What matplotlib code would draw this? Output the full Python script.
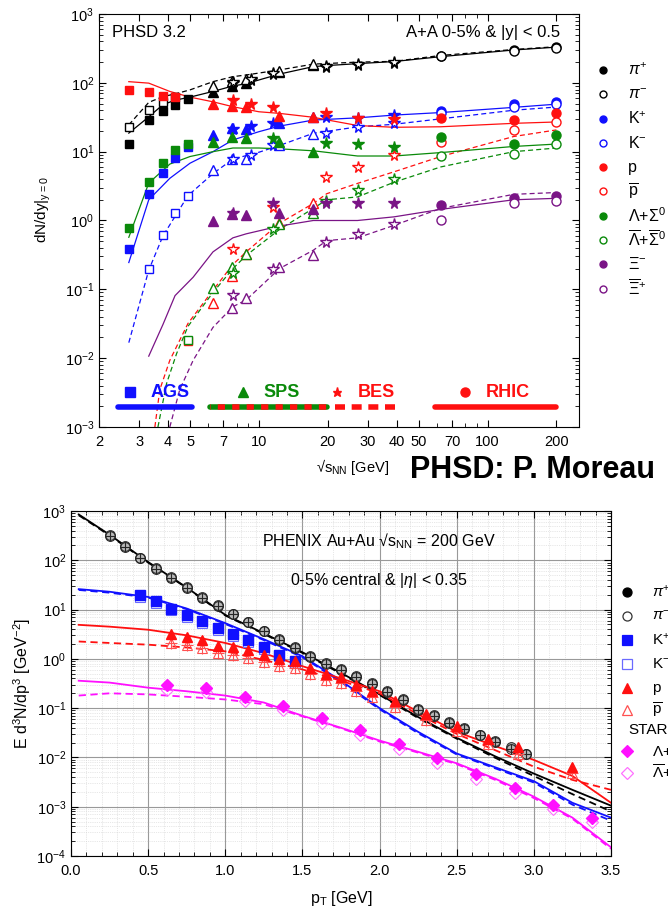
import numpy as np
import matplotlib.pyplot as plt
from matplotlib.lines import Line2D
from matplotlib.ticker import FixedLocator, NullFormatter, LogLocator, MultipleLocator, FormatStrFormatter

plt.rcParams['font.family'] = ['Liberation Sans', 'DejaVu Sans']
plt.rcParams['mathtext.fontset'] = 'custom'
plt.rcParams['mathtext.rm'] = 'Liberation Sans'
plt.rcParams['mathtext.it'] = 'Liberation Sans:italic'
plt.rcParams['mathtext.bf'] = 'Liberation Sans:bold'

nan = np.nan

# ---------------- top panel: dN/dy vs sqrt(s_NN) ----------------
AGS_E = [2.7, 3.3, 3.8, 4.3, 4.9]
SPS_E = [6.3, 7.6, 8.8, 12.3, 17.3]
BES_E = [7.7, 9.2, 11.5, 19.6, 27, 39]
RHIC_E = [62.4, 130, 200]

species = ['pip', 'pim', 'kp', 'km', 'p', 'pbar', 'lam', 'lambar', 'xi', 'xibar']
colors = {'pip': 'black', 'pim': 'black', 'kp': '#1010ff', 'km': '#1010ff',
          'p': '#ff1010', 'pbar': '#ff1010', 'lam': '#0a8a0a', 'lambar': '#0a8a0a',
          'xi': '#7a1486', 'xibar': '#7a1486'}
filled = {'pip': True, 'pim': False, 'kp': True, 'km': False, 'p': True, 'pbar': False,
          'lam': True, 'lambar': False, 'xi': True, 'xibar': False}

ags = {
    'pip': [12.9, 28.8, 39, 47, 59],
    'pim': [22.6, 40, 52, 63, nan],
    'kp': [0.39, 2.4, 4.9, 8.1, 11.8],
    'km': [nan, 0.195, 0.62, 1.3, 2.28],
    'p': [80, 74, 64, 62, nan],
    'pbar': [nan, nan, nan, nan, 0.018],
    'lam': [0.79, 3.67, 6.9, 10.6, 12.9],
    'lambar': [nan, nan, nan, nan, 0.0185],
    'xi': [nan] * 5,
    'xibar': [nan] * 5,
}
sps = {
    'pip': [74.5, 90, 100, 144, 181],
    'pim': [90, 105, 112, 150, 190],
    'kp': [17.7, 22.3, 21.5, 26.5, 32],
    'km': [5.5, 7.8, 7.8, 12.3, 17.8],
    'p': [48.7, 46, 45, 32.6, 31.5],
    'pbar': [0.063, 0.156, 0.33, 0.91, 1.77],
    'lam': [13.7, 16.5, 15.7, 13.9, 10],
    'lambar': [0.106, 0.214, 0.33, 0.89, 1.3],
    'xi': [0.98, 1.23, 1.2, 1.27, 1.45],
    'xibar': [nan, 0.053, 0.074, 0.214, 0.32],
}
bes = {
    'pip': [99, 110, 135, 172, 181, 195],
    'pim': [102, 113, 140, 175, 185, 198],
    'kp': [21.5, 23.4, 26.5, 32, 31, 34],
    'km': [7.9, 8.9, 12.6, 18.9, 22.6, 25.9],
    'p': [56, 49, 45, 36, 31, 30],
    'pbar': [0.39, nan, 1.55, 4.3, 6.0, 9.0],
    'lam': [nan, nan, 15.7, 13.5, 12.9, 11.8],
    'lambar': [0.17, nan, 0.76, 1.92, 2.77, 4.0],
    'xi': [1.28, nan, 1.78, 1.8, 1.8, 1.8],
    'xibar': [0.083, nan, 0.195, 0.49, 0.64, 0.9],
}
rhic = {
    'pip': [245, 300, 335],
    'pim': [245, 290, 325],
    'kp': [39.4, 49, 53],
    'km': [36, 44, 49],
    'p': [30.5, 28.8, 36],
    'pbar': [14, 20.6, 27],
    'lam': [16.2, 12.9, 17.5],
    'lambar': [8.6, 9.1, 12.9],
    'xi': [1.66, 2.14, 2.25],
    'xibar': [1.0, 1.77, 1.9],
}

# PHSD curves (energy, value)
phsd = {
    'pip': ([2.7, 3.3, 3.8, 4.3, 5.0, 6.3, 7.7, 8.8, 10, 12.3, 17.3, 19.8, 27, 39, 62.4, 130, 200],
            [18.6, 32, 48, 56, 62, 75, 90, 97, 110, 134, 172, 178, 190, 204, 240, 300, 330]),
    'pim': ([2.7, 3.3, 3.8, 4.3, 5.0, 6.3, 7.7, 8.8, 12.3, 17.3, 27, 39, 62.4, 130, 200],
            [24.5, 52, 63, 69, 79, 104, 123, 130, 154, 187, 200, 205, 250, 305, 335]),
    'kp': ([2.7, 3.3, 4.08, 5.0, 6.3, 7.7, 10, 12.3, 17.3, 27, 39, 62.4, 130, 200],
           [0.245, 2.0, 4.1, 6.8, 10, 14.8, 19.5, 23.5, 28.8, 31, 34, 37, 44, 49]),
    'km': ([2.7, 3.3, 3.81, 4.9, 6.3, 7.7, 10, 12.3, 17.3, 27, 39, 62.4, 130, 200],
           [0.0168, 0.19, 0.6, 2.3, 4.8, 7.8, 9.8, 12.3, 18.5, 22.9, 25, 30, 40, 44.5]),
    'p': ([2.7, 3.3, 4.08, 5.0, 6.3, 7.7, 10, 12.3, 17.3, 19.8, 27, 39, 62.4, 130, 200],
          [104, 99, 75, 62, 53, 45, 38, 36, 31.6, 29, 24, 22.6, 23, 25.8, 27]),
    'pbar': ([3.51, 3.69, 4.08, 4.9, 6.3, 7.7, 8.8, 12.3, 17.3, 19.8, 27, 39, 62.4, 130, 200],
             [0.001, 0.0035, 0.0093, 0.032, 0.097, 0.23, 0.35, 0.91, 1.77, 2.45, 3.46, 5.1, 8.5, 16.6, 20.7]),
    'lam': ([2.7, 3.3, 4.08, 5.0, 6.3, 7.7, 10, 12.3, 17.3, 27, 39, 62.4, 130, 200],
            [0.57, 3.5, 6.6, 8.5, 10, 11.3, 11.3, 11, 10.3, 8.65, 8.65, 9.7, 11.9, 12.9]),
    'lambar': ([3.62, 3.95, 4.37, 4.9, 6.3, 7.7, 8.8, 12.3, 17.3, 19.8, 27, 39, 62.4, 130, 200],
               [0.001, 0.0043, 0.0117, 0.029, 0.09, 0.2, 0.31, 0.74, 1.5, 2.0, 2.2, 3.6, 6.0, 10, 11.3]),
    'xi': ([3.3, 3.81, 4.3, 5.16, 6.3, 7.7, 8.8, 12.3, 17.3, 27, 39, 62.4, 130, 200],
           [0.0107, 0.031, 0.081, 0.15, 0.35, 0.56, 0.64, 0.83, 1.0, 1.0, 1.13, 1.45, 2.0, 2.1]),
    'xibar': ([4.08, 4.51, 5.16, 6.3, 7.7, 8.8, 12.3, 17.3, 19.8, 27, 39, 62.4, 130, 200],
              [0.001, 0.0035, 0.0093, 0.028, 0.056, 0.07, 0.2, 0.37, 0.51, 0.56, 0.85, 1.5, 2.4, 2.55]),
}

top_legend = [r'$\pi^{+}$', r'$\pi^{-}$', r'K$^{+}$', r'K$^{-}$', 'p', r'$\overline{\mathrm{p}}$',
              r'$\Lambda$+$\Sigma^{0}$', r'$\overline{\Lambda}$+$\overline{\Sigma}^{0}$',
              r'$\Xi^{-}$', r'$\overline{\Xi}^{+}$']

BAND_Y = 0.00195
AGS_BAND = [2.42, 5.08]
SPS_BAND = [6.1, 19.8]
BES_BAND = [21.6, 40.8]
RHIC_BAND = [59, 200]
BAND_LABEL_Y = 0.0032
band_marks = [2.72, 8.5, 21.9, 79.6]
band_text_x = [4.08, 12.6, 32.6, 122]
band_names = ['AGS', 'SPS', 'BES', 'RHIC']

# ---------------- bottom panel: pT spectra ----------------
PT_PI = [0.25, 0.35, 0.45, 0.55, 0.65, 0.75, 0.85, 0.95, 1.05, 1.15, 1.25, 1.35, 1.45, 1.55,
         1.65, 1.75, 1.85, 1.95, 2.05, 2.15, 2.25, 2.35, 2.45, 2.55, 2.65, 2.75, 2.85, 2.95]
PIP_PT = [325, 195, 113, 70, 45, 29, 18, 12.2, 8.3, 5.7, 3.7, 2.55, 1.74, 1.13, 0.83, 0.61,
          0.45, 0.32, 0.225, 0.154, 0.095, 0.072, 0.053, 0.040, 0.029, 0.022, 0.016, 0.012]
PIM_PT = [315, 190, 110, 68, 44, 28, 17.5, 11.8, 8.0, 5.5, 3.6, 2.45, 1.68, 1.1, 0.8, 0.59,
          0.43, 0.31, 0.215, 0.148, 0.091, 0.069, 0.05, 0.038, 0.028, 0.021, 0.015, 0.0115]
PT_K = [0.45, 0.55, 0.65, 0.75, 0.85, 0.95, 1.05, 1.15, 1.25, 1.35, 1.45]
KP_PT = [19.4, 14.9, 10.5, 7.7, 5.8, 4.2, 3.2, 2.4, 1.74, 1.22, 0.9]
KM_PT = [17.8, 13.7, 9.7, 7.1, 5.3, 3.9, 2.95, 2.2, 1.6, 1.12, 0.83]
PT_P = [0.65, 0.75, 0.85, 0.95, 1.05, 1.15, 1.25, 1.35, 1.45, 1.55, 1.65, 1.75, 1.85, 1.95,
        2.1, 2.3, 2.5, 2.7, 2.9, 3.25]
P_PT = [3.2, 2.84, 2.44, 1.85, 1.71, 1.49, 1.22, 1.0, 0.9, 0.66, 0.49, 0.42, 0.29, 0.225,
        0.14, 0.076, 0.044, 0.024, 0.016, 0.0065]
PBAR_PT = [2.1, 1.9, 1.65, 1.3, 1.2, 1.05, 0.88, 0.72, 0.66, 0.5, 0.37, 0.32, 0.22, 0.17,
           0.105, 0.058, 0.034, 0.019, 0.012, 0.0048]
PT_L = [0.625, 0.875, 1.125, 1.375, 1.625, 1.875, 2.125, 2.375, 2.625, 2.875, 3.125, 3.375]
L_PT = [0.29, 0.26, 0.17, 0.11, 0.063, 0.036, 0.019, 0.0096, 0.0046, 0.0024, 0.0011, 0.0006]
LBAR_PT = [0.23, 0.21, 0.14, 0.09, 0.05, 0.029, 0.015, 0.0078, 0.0037, 0.0019, 0.0009, 0.00048]

PT_CURVE = [0.05, 0.25, 0.5, 0.75, 1.0, 1.25, 1.5, 1.75, 2.0, 2.25, 2.5, 2.75, 3.0, 3.25, 3.5]
PI_SOLID = [850, 330, 92, 28, 7.8, 3.3, 1.36, 0.52, 0.19, 0.066, 0.025, 0.0105, 0.0047, 0.0022, 0.00105]
PI_DASH = [820, 320, 90, 27.5, 7.6, 3.2, 1.32, 0.5, 0.185, 0.063, 0.024, 0.0098, 0.0042, 0.0018, 0.0008]
K_SOLID = [26, 23, 18, 10.5, 5.3, 2.5, 1.13, 0.36, 0.1, 0.033, 0.012, 0.0063, 0.0033, 0.0012, 0.0006]
K_DASH = [25, 22, 17.5, 10.2, 5.1, 2.4, 1.08, 0.34, 0.095, 0.031, 0.0115, 0.006, 0.0031, 0.0011, 0.00052]
P_SOLID = [4.9, 4.5, 3.9, 3.0, 2.1, 1.3, 0.71, 0.4, 0.22, 0.085, 0.033, 0.017, 0.0089, 0.0042, 0.0012]
P_DASH = [2.25, 2.1, 1.94, 1.7, 1.42, 0.95, 0.61, 0.36, 0.2, 0.075, 0.03, 0.014, 0.0065, 0.0035, 0.0022]
L_SOLID = [0.36, 0.33, 0.26, 0.22, 0.18, 0.13, 0.07, 0.04, 0.022, 0.013, 0.0076, 0.0037, 0.0016, 0.0006, 0.00015]
L_DASH = [0.18, 0.2, 0.19, 0.17, 0.15, 0.12, 0.068, 0.039, 0.021, 0.0125, 0.0073, 0.0035, 0.0015, 0.00057, 0.00014]

bottom_legend = [r'$\pi^{+}$', r'$\pi^{-}$', r'K$^{+}$', r'K$^{-}$', 'p', r'$\overline{\mathrm{p}}$',
                 'STAR', r'$\Lambda$+$\Sigma^{0}$', r'$\overline{\Lambda}$+$\overline{\Sigma}^{0}$']


W, H = 668, 913
fig = plt.figure(figsize=(W / 100, H / 100), dpi=100)


def px_axes(x0, y0, x1, y1):
    return fig.add_axes([x0 / W, 1 - y1 / H, (x1 - x0) / W, (y1 - y0) / H])


# ---------- top ----------
ax = px_axes(99, 14, 579, 427)
ax.set_xscale('log')
ax.set_yscale('log')
ax.set_xlim(2, 251)
ax.set_ylim(1e-3, 1e3)

exp_style = [(AGS_E, ags, 's', 5.5), (SPS_E, sps, '^', 7), (BES_E, bes, '*', 8.5), (RHIC_E, rhic, 'o', 6.5)]
for s in species:
    c = colors[s]
    xs, ys = phsd[s]
    ax.plot(xs, ys, color=c, lw=0.9, ls='-' if filled[s] else (0, (4, 2.5)), zorder=2)
    for E, data, mk, ms in exp_style:
        ax.plot(E, data[s], ls='none', marker=mk, ms=ms, color=c,
                mfc=c if filled[s] else 'white', mew=1.0, zorder=3)

ax.plot(AGS_BAND, [BAND_Y] * 2, color='#1010ff', lw=4, solid_capstyle='round')
ax.plot(SPS_BAND, [BAND_Y] * 2, color='#0a8a0a', lw=4, solid_capstyle='round')
ax.plot(SPS_BAND, [BAND_Y] * 2, color='#ff1010', lw=4, ls=(1.2, (1.3, 1.3)), dash_capstyle='butt')
ax.plot(BES_BAND, [BAND_Y] * 2, color='#ff1010', lw=4, ls=(0, (1.8, 1.2)), dash_capstyle='butt')
ax.plot(RHIC_BAND, [BAND_Y] * 2, color='#ff1010', lw=4, solid_capstyle='round')
band_cols = ['#1010ff', '#0a8a0a', '#ff1010', '#ff1010']
band_mk = ['s', '^', '*', 'o']
for xm, xt, name, c, mk in zip(band_marks, band_text_x, band_names, band_cols, band_mk):
    ax.plot([xm], [BAND_LABEL_Y], marker=mk, color=c, ms=6.5, ls='none')
    ax.text(xt, BAND_LABEL_Y, name, color=c, fontsize=13, fontweight='bold', ha='center', va='center')

ax.xaxis.set_major_locator(FixedLocator([2, 3, 4, 5, 7, 10, 20, 30, 40, 50, 70, 100, 200]))
ax.xaxis.set_major_formatter(FormatStrFormatter('%g'))
ax.xaxis.set_minor_locator(FixedLocator([6, 8, 9, 60, 80, 90]))
ax.xaxis.set_minor_formatter(NullFormatter())
ax.yaxis.set_major_locator(LogLocator(base=10, numticks=10))
ax.yaxis.set_minor_locator(LogLocator(base=10, subs=np.arange(2, 10), numticks=20))
ax.yaxis.set_minor_formatter(NullFormatter())
ax.tick_params(which='both', direction='in', top=True, right=True, labelsize=10.5)
ax.tick_params(which='major', length=5)
ax.tick_params(which='minor', length=3)
ax.tick_params(axis='x', pad=6)
ax.text(0.027, 0.955, 'PHSD 3.2', transform=ax.transAxes, fontsize=12, va='center')
ax.text(0.96, 0.955, 'A+A 0-5% & |y| < 0.5', transform=ax.transAxes, fontsize=12, va='center', ha='right')
fig.text(43 / W, 1 - 210 / H, r'dN/dy|$_{\mathrm{y=0}}$', rotation=90, fontsize=11, ha='center', va='center')
fig.text(353 / W, 1 - 467 / H, '\u221as$_{\\mathrm{NN}}$ [GeV]', fontsize=10.5, ha='center', va='center')
fig.text(410 / W, 1 - 470 / H, 'PHSD: P. Moreau', fontsize=22, fontweight='bold', ha='left', va='center')

for i, (s, lab) in enumerate(zip(species, top_legend)):
    yy = 1 - (70 + i * 24.3) / H
    c = colors[s]
    fig.add_artist(Line2D([603 / W], [yy], marker='o', ms=5, color=c,
                          mfc=c if filled[s] else 'white', mew=1.0, ls='none'))
    fig.text(628 / W, yy, lab, fontsize=11.5, va='center', ha='left')

# ---------- bottom ----------
bx = px_axes(71, 511, 611, 856)
bx.set_yscale('log')
bx.set_xlim(0, 3.5)
bx.set_ylim(1e-4, 1e3)
bx.grid(which='major', color='0.6', lw=0.8)
bx.grid(which='minor', color='0.82', lw=0.5, ls=':')
bx.set_axisbelow(True)

bx.plot(PT_CURVE, PI_SOLID, color='black', lw=1.3)
bx.plot(PT_CURVE, PI_DASH, color='black', lw=1.3, ls=(0, (4, 2.5)))
bx.plot(PT_CURVE, K_SOLID, color='#1010ff', lw=1.3)
bx.plot(PT_CURVE, K_DASH, color='#1010ff', lw=1.3, ls=(0, (4, 2.5)))
bx.plot(PT_CURVE, P_SOLID, color='#ff1010', lw=1.3)
bx.plot(PT_CURVE, P_DASH, color='#ff1010', lw=1.3, ls=(0, (4, 2.5)))
bx.plot(PT_CURVE, L_SOLID, color='#ff10ff', lw=1.3)
bx.plot(PT_CURVE, L_DASH, color='#ff10ff', lw=1.3, ls=(0, (4, 2.5)))

bx.plot(PT_PI, PIP_PT, ls='none', marker='o', ms=7, color='0.2', mfc='0.72', mew=0.8)
bx.plot(PT_PI, PIM_PT, ls='none', marker='o', ms=7, color='0.15', mfc='none', mew=0.8)
bx.plot(PT_PI, PIM_PT, ls='none', marker='+', ms=7, color='0.15', mew=0.8)
bx.plot(PT_K, KM_PT, ls='none', marker='s', ms=6.5, color='#6a6aff', mfc='white', mew=0.8)
bx.plot(PT_K, KP_PT, ls='none', marker='s', ms=6.5, color='#1010ff')
bx.plot(PT_P, PBAR_PT, ls='none', marker='^', ms=7.5, color='#ff5050', mfc='none', mew=0.8)
bx.plot(PT_P, PBAR_PT, ls='none', marker='+', ms=8, color='#ff5050', mew=0.8)
bx.plot(PT_P, P_PT, ls='none', marker='^', ms=7.5, color='#ff1010')
bx.plot(PT_L, LBAR_PT, ls='none', marker='D', ms=6, color='#ff70ff', mfc='none', mew=0.8)
bx.plot(PT_L, L_PT, ls='none', marker='D', ms=6.5, color='#ff10ff')

bx.xaxis.set_major_locator(MultipleLocator(0.5))
bx.xaxis.set_minor_locator(MultipleLocator(0.1))
bx.xaxis.set_major_formatter(FormatStrFormatter('%.1f'))
bx.yaxis.set_major_locator(LogLocator(base=10, numticks=10))
bx.yaxis.set_minor_locator(LogLocator(base=10, subs=np.arange(2, 10), numticks=20))
bx.yaxis.set_minor_formatter(NullFormatter())
bx.tick_params(which='both', direction='in', top=True, right=True, labelsize=10.5)
bx.tick_params(which='major', length=5)
bx.tick_params(which='minor', length=3)
bx.tick_params(axis='x', pad=6)
bx.text(0.57, 0.913, 'PHENIX Au+Au \u221as$_{\\mathrm{NN}}$ = 200 GeV', transform=bx.transAxes,
        fontsize=11.5, ha='center', va='center')
bx.text(0.57, 0.80, r'0-5% central & |$\eta$| < 0.35', transform=bx.transAxes,
        fontsize=11.5, ha='center', va='center')
fig.text(22 / W, 1 - 683 / H, r'E d$^{3}$N/dp$^{3}$ [GeV$^{-2}$]', rotation=90, fontsize=11.5,
         ha='center', va='center')
fig.text(341 / W, 1 - 898 / H, r'p$_{\mathrm{T}}$ [GeV]', fontsize=11.5, ha='center', va='center')

leg_y = [592, 616, 640, 664, 688, 710, 730, 751, 773]
leg_mk = [('o', 'black', 'black'), ('o', '0.2', 'white'), ('s', '#1010ff', '#1010ff'),
          ('s', '#6a6aff', 'white'), ('^', '#ff1010', '#ff1010'), ('^', '#ff5050', 'white'),
          None, ('D', '#ff10ff', '#ff10ff'), ('D', '#ff70ff', 'white')]
for yv, lab, mk in zip(leg_y, bottom_legend, leg_mk):
    yy = 1 - yv / H
    if mk is None:
        fig.text(628 / W, yy, lab, fontsize=11, va='center', ha='left')
        continue
    fig.add_artist(Line2D([627 / W], [yy], marker=mk[0], ms=6.5, color=mk[1], mfc=mk[2],
                          mew=0.9, ls='none'))
    fig.text(652 / W, yy, lab, fontsize=11, va='center', ha='left')

fig.savefig('out.png', dpi=100)
